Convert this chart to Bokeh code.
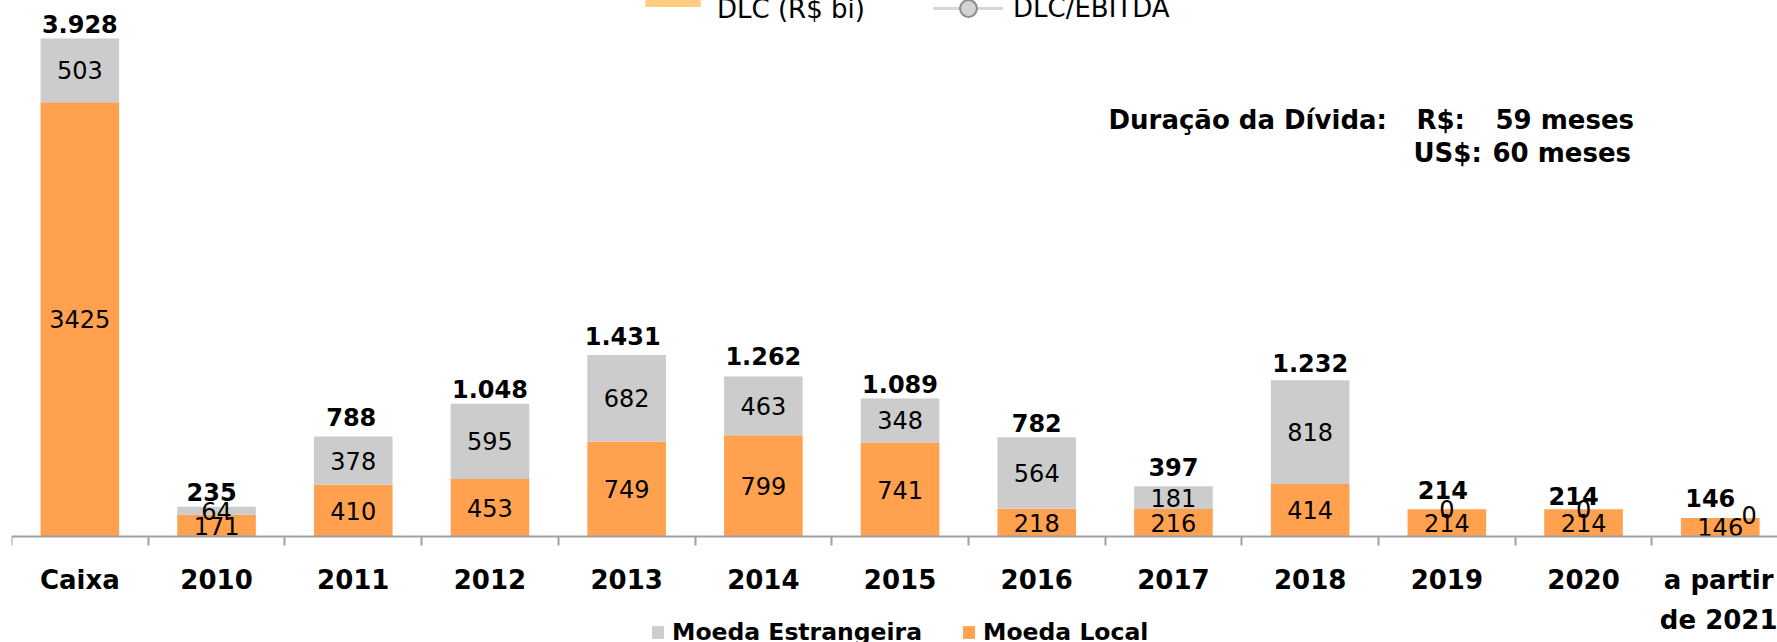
from bokeh.plotting import figure
from bokeh.models import ColumnDataSource, Range1d, FixedTicker, Legend, LegendItem, Label
from bokeh.core.properties import value
from bokeh.embed import file_html
from bokeh.resources import INLINE

# ---------------- data ----------------
categories = ["Caixa", "2010", "2011", "2012", "2013", "2014", "2015", "2016",
              "2017", "2018", "2019", "2020", "a partir\nde 2021"]
moeda_local = [3425, 171, 410, 453, 749, 799, 741, 218, 216, 414, 214, 214, 146]
moeda_estrangeira = [503, 64, 378, 595, 682, 463, 348, 564, 181, 818, 0, 0, 0]

# label nudges (screen px), as placed in the original chart
total_dx = [0, -5, -2, 0, -4, 0, 0, 0, 0, 0, -4, -10, -10]
total_gap = [16, 16, 21, 16, 21, 22, 16, 16, 21, 19, 21, 15, 21]
foreign_dx = [0, 0, 0, 0, 0, 0, 0, 0, 0, 0, 0, 0, 29]
foreign_dy = [0, 0, 0, 0, 0, 0, 0, 0, 0, 0, 0, 0, -3]

ORANGE = "#FFA14F"
GRAY = "#CCCCCC"
FONT = "DejaVu Sans"

n = len(categories)
xs = list(range(n))
totals = [a + b for a, b in zip(moeda_local, moeda_estrangeira)]
src = ColumnDataSource(dict(
    x=xs,
    local=moeda_local,
    foreign=moeda_estrangeira,
    local_mid=[a / 2 for a in moeda_local],
    foreign_mid=[a + b / 2 for a, b in zip(moeda_local, moeda_estrangeira)],
    total=totals,
    local_txt=[str(v) for v in moeda_local],
    foreign_txt=[str(v) for v in moeda_estrangeira],
    total_txt=[f"{t:,}".replace(",", ".") for t in totals],
    tdx=total_dx, tdy=[-g + 1.5 for g in total_gap],
    fdx=foreign_dx, fdy=foreign_dy,
))

# ---------------- layout ----------------
W, H = 1777, 642
FRAME_LEFT = 11
AXIS_Y = 536          # pixel row of the category axis
PX_PER_CAT = 136.7
PX_PER_UNIT = 0.12678

x_start = -0.5
x_end = x_start + (W - FRAME_LEFT) / PX_PER_CAT
y_start = -(H - AXIS_Y) / PX_PER_UNIT
y_end = AXIS_Y / PX_PER_UNIT

p = figure(frame_width=W - FRAME_LEFT, frame_height=H,
           x_range=Range1d(x_start, x_end), y_range=Range1d(y_start, y_end),
           output_backend="svg", toolbar_location=None,
           min_border_left=FRAME_LEFT, min_border_right=0,
           min_border_top=0, min_border_bottom=0)
p.outline_line_color = None
p.grid.visible = False
p.yaxis.visible = False
p.background_fill_color = "white"

rs = p.vbar_stack(["local", "foreign"], x="x", width=0.575, source=src,
                  color=[ORANGE, GRAY], line_color=None)
r_local, r_foreign = rs

# value labels
p.text(x="x", y="local_mid", text="local_txt", source=src,
       text_align="center", text_baseline="middle",
       text_font=value(FONT), text_font_size="24px", text_color="black")
p.text(x="x", y="foreign_mid", text="foreign_txt", source=src,
       x_offset="fdx", y_offset="fdy",
       text_align="center", text_baseline="middle",
       text_font=value(FONT), text_font_size="24px", text_color="black")
p.text(x="x", y="total", text="total_txt", source=src,
       x_offset="tdx", y_offset="tdy",
       text_align="center", text_baseline="middle",
       text_font=value(FONT), text_font_size="24px", text_font_style="bold",
       text_color="black")

# x axis, drawn at value 0
ax = p.xaxis[0]
ax.fixed_location = 0
ax.ticker = FixedTicker(ticks=xs, minor_ticks=[i - 0.5 for i in range(n + 1)])
ax.major_label_overrides = {i: c for i, c in enumerate(categories)}
ax.major_tick_line_color = None
ax.major_tick_out = 0
ax.major_tick_in = 0
ax.minor_tick_out = 9
ax.minor_tick_in = 0
ax.minor_tick_line_color = "#A0A0A0"
ax.minor_tick_line_width = 2
ax.axis_line_color = "#A0A0A0"
ax.axis_line_width = 2
ax.major_label_standoff = 19
ax.major_label_text_font = FONT
ax.major_label_text_font_style = "bold"
ax.major_label_text_font_size = "26px"
ax.major_label_text_color = "black"
ax.major_label_text_line_height = 1.35

# bottom legend
leg = Legend(items=[LegendItem(label="Moeda Estrangeira", renderers=[r_foreign]),
                    LegendItem(label="Moeda Local", renderers=[r_local])],
             orientation="horizontal", location=(639, -4),
             glyph_width=15, glyph_height=16, label_standoff=7, spacing=39,
             padding=0, margin=0, border_line_color=None, background_fill_alpha=0,
             label_text_font=FONT, label_text_font_style="bold",
             label_text_font_size="23.5px", label_text_color="black")
p.add_layout(leg)

# top legend (partially cut off in the original); series without values
nan = float("nan")
r_dlc = p.vbar(x=[nan], top=[nan], width=0.5, color="#FFCC80", line_color=None)
r_blank = p.vbar(x=[nan], top=[nan], width=0.5, fill_alpha=0, line_alpha=0)
r_line = p.line(x=[nan], y=[nan], line_color="#D6D6D6", line_width=3)
r_circ = p.scatter(x=[nan], y=[nan], size=16, fill_color="#D3D3D3",
                   line_color="#8C8C8C", line_width=2)
top_style = dict(orientation="horizontal", label_standoff=10, padding=0, margin=0,
                 border_line_color=None, background_fill_alpha=0,
                 label_text_font=FONT, label_text_font_size="26px",
                 label_text_color="black")
# swatch of "DLC (R$ bi)"
leg_sw = Legend(items=[LegendItem(label=" ", renderers=[r_dlc])],
                location=(627, H - 9), glyph_width=69, glyph_height=24,
                label_height=24, **{**top_style, "label_text_font_size": "2px"})
leg_a = Legend(items=[LegendItem(label="DLC (R$ bi)", renderers=[r_blank])],
               location=(627, H - 24), glyph_width=69, glyph_height=16,
               **top_style)
leg_b = Legend(items=[LegendItem(label="DLC/EBITDA", renderers=[r_line, r_circ])],
               location=(922, H - 29), glyph_width=70, glyph_height=42,
               **top_style)
p.add_layout(leg_sw)
p.add_layout(leg_a)
p.add_layout(leg_b)


def xd(px):
    return x_start + (px - FRAME_LEFT) / PX_PER_CAT


def yd(py):
    return (AXIS_Y - py) / PX_PER_UNIT


for txt, px, py in [("Duração da Dívida:", 1108, 119.5), ("R$:", 1416, 119.5),
                    ("59 meses", 1495, 119.5), ("US$:", 1413, 152.5),
                    ("60 meses", 1492, 152.5)]:
    p.add_layout(Label(x=xd(px), y=yd(py), text=txt, text_font=FONT,
                       text_font_style="bold", text_font_size="26px",
                       text_color="black", text_baseline="middle",
                       text_align="left"))

open("out.html", "w").write(file_html(p, INLINE))
